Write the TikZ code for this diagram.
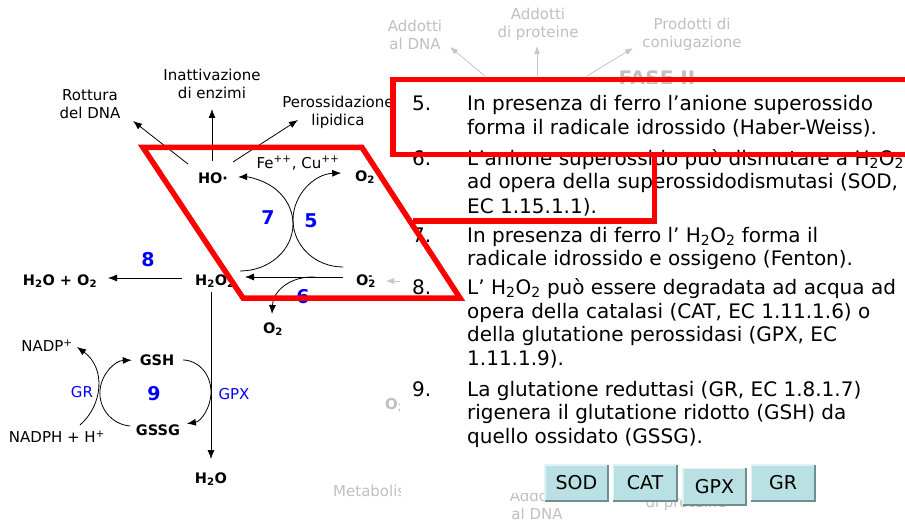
\documentclass[tikz,border=0pt]{standalone}
\usepackage{fontspec}
\setmainfont{DejaVu Sans}
\usetikzlibrary{arrows.meta}
\definecolor{redline}{HTML}{FF0000}
\definecolor{bgray}{HTML}{C0C0C0}
\definecolor{numblue}{HTML}{0000FF}
\definecolor{btnfill}{HTML}{B9E0E3}
\definecolor{btndark}{HTML}{6E8E90}
\definecolor{btnlight}{HTML}{E2F2F3}
\newcommand{\supsub}[2]{\rlap{\textsuperscript{#1}}\textsubscript{#2}}
\begin{document}
\begin{tikzpicture}[x=1pt,y=-1pt,
  lbl/.style={font=\fontsize{15}{18}\selectfont, align=center, inner sep=0pt},
  glbl/.style={lbl, text=bgray},
  gbold/.style={font=\fontsize{20}{24}\selectfont\bfseries, text=bgray, inner sep=0pt},
  chem/.style={font=\fontsize{14.5}{17}\selectfont\bfseries, inner sep=0pt},
  num/.style={font=\fontsize{19}{22}\selectfont\bfseries, text=numblue, inner sep=0pt},
  enz/.style={font=\fontsize{15}{18}\selectfont, text=numblue, inner sep=0pt},
  lst/.style={font=\fontsize{20}{24}\selectfont, anchor=base west, inner sep=0pt},
  arr/.style={-{Latex[length=9pt,width=7pt]}, line width=0.8pt},
  garr/.style={-{Latex[length=8pt,width=6pt]}, line width=0.8pt, draw=bgray!90},
  redbox/.style={draw=redline, line width=5.5pt, line join=miter},
  btn/.style={fill=btnfill, minimum width=63pt, minimum height=36pt, inner sep=0pt,
              font=\fontsize{19}{22}\selectfont},
]
\useasboundingbox (0,0) rectangle (905,524);
\fill[white] (0,0) rectangle (905,524);

% ---------- faint background layer ----------
\node[glbl] (gadna) at (415,35) {Addotti\\al DNA};
\node[glbl] (gaprot) at (538,24) {Addotti\\di proteine};
\node[glbl] (gprod) at (692,34) {Prodotti di\\coniugazione};
\coordinate (gs1) at (485,76); \coordinate (ge1) at (450,47);
\coordinate (gs2) at (537,76); \coordinate (ge2) at (537,46);
\coordinate (gs3) at (587,76); \coordinate (ge3) at (633,48);
\draw[garr] (gs1) -- (ge1);
\draw[garr] (gs2) -- (ge2);
\draw[garr] (gs3) -- (ge3);
\node[gbold] (fase) at (657,78) {FASE II};
\coordinate (ga1) at (420,281); \coordinate (ga2) at (386,281);
\draw[garr] (ga1) -- (ga2);
\node[gbold, anchor=west, font=\fontsize{15}{18}\selectfont\bfseries] (go2) at (385,405) {O\textsubscript{2}};
\node[glbl, anchor=west] (gmet) at (333,491) {Metabolismo};
\node[glbl] (gadna2) at (537,505) {Addotti\\al DNA};
\node[glbl] (gprot2) at (686,494) {Addotti\\di proteine};
% white text panel covering the faint layer
\fill[white] (400,84) rectangle (905,452);
\fill[white] (401,452) rectangle (905,493);
\fill[white] (401,452) rectangle (500,502);

% ---------- numbered list ----------
\node[lst] (l5n) at (412,111) {5.};
\node[lst] (l5a) at (467,111) {In presenza di ferro l’anione superossido};
\node[lst] (l5b) at (467,134.5) {forma il radicale idrossido (Haber-Weiss).};
\node[lst] (l6n) at (412,165) {6.};
\node[lst] (l6a) at (467,165) {L’anione superossido può dismutare a H\textsubscript{2}O\textsubscript{2}};
\node[lst] (l6b) at (467,189) {ad opera della superossidodismutasi (SOD,};
\node[lst] (l6c) at (467,213) {EC 1.15.1.1).};
\node[lst] (l7n) at (412,242) {7.};
\node[lst] (l7a) at (467,242) {In presenza di ferro l’ H\textsubscript{2}O\textsubscript{2} forma il};
\node[lst] (l7b) at (467,265) {radicale idrossido e ossigeno (Fenton).};
\node[lst] (l8n) at (412,294) {8.};
\node[lst] (l8a) at (467,294) {L’ H\textsubscript{2}O\textsubscript{2} può essere degradata ad acqua ad};
\node[lst] (l8b) at (467,318) {opera della catalasi (CAT, EC 1.11.1.6) o};
\node[lst] (l8c) at (467,341.5) {della glutatione perossidasi (GPX, EC};
\node[lst] (l8d) at (467,365) {1.11.1.9).};
\node[lst] (l9n) at (412,396) {9.};
\node[lst] (l9a) at (467,396) {La glutatione reduttasi (GR, EC 1.8.1.7)};
\node[lst] (l9b) at (467,419.5) {rigenera il glutatione ridotto (GSH) da};
\node[lst] (l9c) at (467,443) {quello ossidato (GSSG).};

% ---------- diagram ----------
\node[lbl] (rott) at (90,104) {Rottura\\del DNA};
\node[lbl] (inatt) at (212,84) {Inattivazione\\di enzimi};
\node[lbl] (perox) at (338,112) {Perossidazione\\lipidica};
\node[chem] (ho) at (213,178) {HO·};
\node[lbl] (fecu) at (298,163) {Fe\textsuperscript{++}, Cu\textsuperscript{++}};
\node[chem] (o2a) at (365,177) {O\textsubscript{2}};
\node[num] (n7) at (268,218) {7};
\node[num] (n5) at (311,221) {5};
\node[chem] (h2o2) at (215,281) {H\textsubscript{2}O\textsubscript{2}};
\node[chem] (o2m) at (366,281) {O\supsub{-}{2}};
\node[chem] (h2oo2) at (60,281) {H\textsubscript{2}O + O\textsubscript{2}};
\node[num] (n8) at (148,260) {8};
\node[chem] (o2b) at (273,329) {O\textsubscript{2}};
\node[num] (n6) at (303,297) {6};
\node[chem] (h2o) at (211,479) {H\textsubscript{2}O};
\node[enz] (gpx) at (234,394) {GPX};
\node[chem] (gsh) at (157,360) {GSH};
\node[chem] (gssg) at (158,430) {GSSG};
\node[num] (n9) at (154,394) {9};
\node[lbl] (nadp) at (47,346) {NADP\textsuperscript{+}};
\node[lbl] (nadph) at (57,437) {NADPH + H\textsuperscript{+}};
\node[enz] (gr) at (82,392) {GR};

% effects of HO.
\coordinate (hs1) at (188,164); \coordinate (he1) at (133,121);
\coordinate (hs2) at (212,161); \coordinate (he2) at (212,109);
\coordinate (hs3) at (233,162); \coordinate (he3) at (298,120);
\draw[arr] (hs1) -- (he1);
\draw[arr] (hs2) -- (he2);
\draw[arr] (hs3) -- (he3);

% reactions 7 and 5
\coordinate (a7s) at (240,271);
\draw[arr] (a7s) arc[start angle=90, end angle=-92, x radius=53, y radius=47];
\coordinate (a5s) at (343,267);
\draw[arr] (a5s) arc[start angle=90, end angle=268, x radius=50, y radius=47];

% O2- -> H2O2
\coordinate (o2ms) at (343,277); \coordinate (h2o2e) at (245,277);
\draw[arr] (o2ms) -- (h2o2e);
% reaction 6
\coordinate (r6s) at (315,277); \coordinate (r6e) at (272,314);
\draw[arr] (r6s) .. controls (290,276) and (273,291) .. (r6e);
% reaction 8
\coordinate (r8s) at (182,278); \coordinate (r8e) at (108,278);
\draw[arr] (r8s) -- (r8e);
% H2O2 -> H2O
\coordinate (vs) at (211,292); \coordinate (ve) at (211,459);
\draw[arr] (vs) -- (ve);

% glutathione cycle
\coordinate (gpxs) at (183,360);
\draw[arr] (gpxs) arc[start angle=-90, end angle=82, x radius=28, y radius=32];
\coordinate (grs) at (130,426);
\draw[arr] (grs) arc[start angle=95, end angle=268, x radius=33, y radius=33];
\coordinate (nps) at (80,425); \coordinate (npe) at (77,347);
\draw[arr] (nps) .. controls (103,405) and (106,368) .. (npe);

% ---------- buttons ----------
\foreach \nm/\cx/\cy/\tx in {sod/576.5/483/SOD, cat/645/483/CAT, gpxb/714.5/486.5/GPX, grb/783/483/GR}{
  \node[btn] (\nm) at (\cx,\cy) {\tx};
  \draw[btnlight, line width=1.5pt] (\nm.south west) -- (\nm.north west) -- (\nm.north east);
  \draw[btndark, line width=2pt] (\nm.north east) -- (\nm.south east) -- (\nm.south west);
}

% ---------- red highlights ----------
\draw[redbox] (143,147.5) -- (362,147.5) -- (460,298) -- (243,298) -- cycle;
\draw[redbox] (912,79.5) -- (393,79.5) -- (393,154.5) -- (912,154.5);
\draw[redbox] (413,221) -- (654.5,221) -- (654.5,154.5);
\end{tikzpicture}
\end{document}
